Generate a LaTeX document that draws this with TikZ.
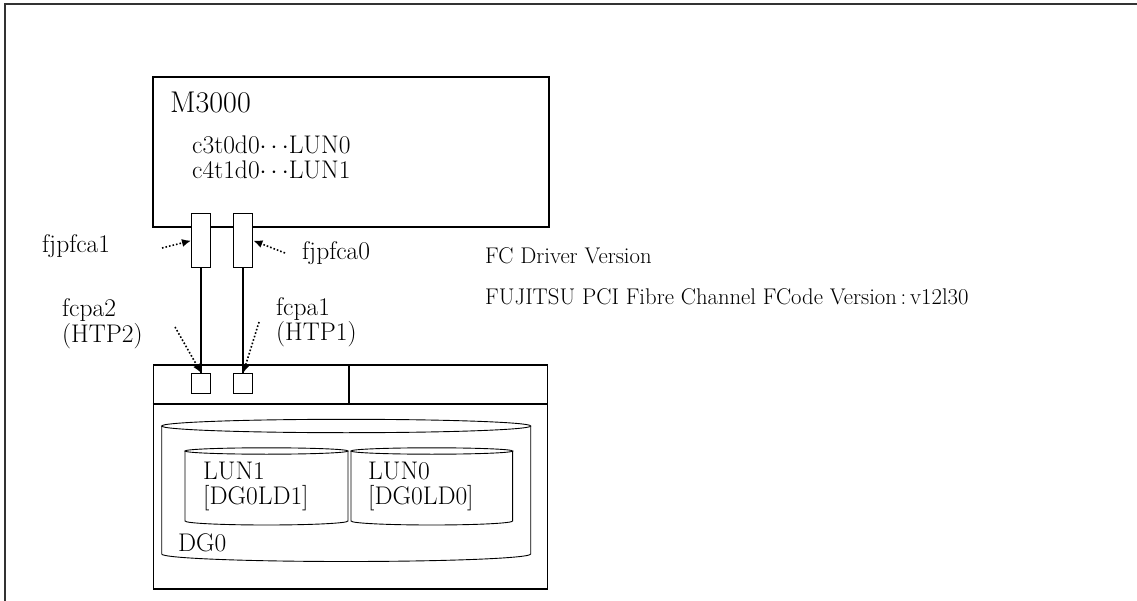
\documentclass[tikz,border=0pt]{standalone}
\usepackage{fontspec}
\usetikzlibrary{arrows.meta}
\begin{document}
\begin{tikzpicture}[x=1pt,y=-1pt,
  box/.style={draw,line width=1.6pt,inner sep=0pt,anchor=north west},
  thinbox/.style={draw,line width=1.4pt,inner sep=0pt,anchor=north west},
  cyl/.style={line width=0.9pt},
  lbl/.style={inner sep=0pt,anchor=base west,font=\fontsize{25.5}{25}\selectfont,align=left},
  small/.style={inner sep=0pt,anchor=base west,font=\fontsize{22.7}{22}\selectfont},
  dotarrow/.style={line width=1.6pt,dotted,-{Latex[length=9pt,width=8pt]}},
  wire/.style={line width=1.6pt}]
\useasboundingbox (0,0) rectangle (1137,601);
% outer frame (open at right and bottom)
\draw[line width=1.8pt,black!80] (5,601) -- (5,4) -- (1137,4);
% server
\node[box,minimum width=396pt,minimum height=150pt] (m3000) at (152,76) {};
\node[inner sep=0pt,anchor=base west,font=\fontsize{30}{30}\selectfont] (mname) at (170,113) {M3000};
\node[lbl] (devs) at (192,179) {c3t0d0$\cdots$LUN0\\c4t1d0$\cdots$LUN1};
% HBAs
\node[thinbox,fill=white,minimum width=19pt,minimum height=54pt] (hba1) at (191,213) {};
\node[thinbox,fill=white,minimum width=19pt,minimum height=54pt] (hba0) at (233,213) {};
\node[lbl] (lfj1) at (42,253) {fjpfca1};
\node[lbl] (lfj0) at (302,260) {fjpfca0};
\coordinate (s1) at (162,248);
\coordinate (s0) at (285,253);
\draw[dotarrow] (s1) -- (hba1.west);
\draw[dotarrow] (s0) -- (hba0.east);
% storage
\node[box,minimum width=394pt,minimum height=224pt] (stor) at (152.5,364) {};
\draw[line width=1.4pt] (152.5,404) -- (546.5,404);
\draw[line width=1.4pt] (349,364) -- (349,404);
\node[thinbox,minimum width=19pt,minimum height=20pt] (port2) at (191,373) {};
\node[thinbox,minimum width=19pt,minimum height=20pt] (port1) at (233,373) {};
\draw[wire] (hba1.south) -- (port2.north);
\draw[wire] (hba0.south) -- (port1.north);
\node[lbl] (lp2) at (62,342) {fcpa2\\(HTP2)};
\node[lbl] (lp1) at (276,341) {fcpa1\\(HTP1)};
\coordinate (t2) at (175,327);
\coordinate (t1) at (259,322);
\draw[dotarrow] (t2) -- (port2.north);
\draw[dotarrow] (t1) -- (port1.north);
% DG0 cylinder
\draw[cyl] (346.2,426) ellipse [x radius=184.5, y radius=6.7];
\draw[cyl] (161.7,426) -- (161.7,554) arc[start angle=180,end angle=0,x radius=184.5,y radius=7.5] -- (530.7,426);
\node[lbl] (dg0) at (178,551) {DG0};
% LUN1 cylinder
\draw[cyl] (266.5,451) ellipse [x radius=81.5, y radius=3.2];
\draw[cyl] (185,451) -- (185,521) arc[start angle=180,end angle=0,x radius=81.5,y radius=4] -- (348,451);
\node[lbl] (lun1) at (203,504) {LUN1\\{}[DG0LD1]};
% LUN0 cylinder
\draw[cyl] (431.8,451) ellipse [x radius=80.8, y radius=3.2];
\draw[cyl] (351,451) -- (351,521) arc[start angle=180,end angle=0,x radius=80.8,y radius=4] -- (512.6,451);
\node[lbl] (lun0) at (368,504) {LUN0\\{}[DG0LD0]};
% version text
\node[small] (fcd) at (485,264) {FC Driver Version};
\node[small] (fcv) at (485,305) {FUJITSU PCI Fibre Channel FCode Version\,:\,v12l30};
\end{tikzpicture}
\end{document}
